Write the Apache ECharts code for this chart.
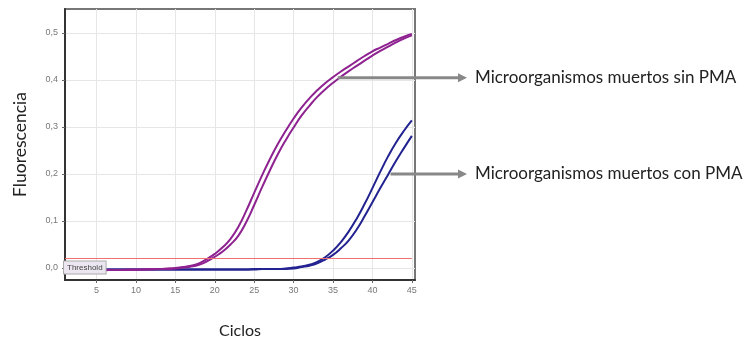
<!DOCTYPE html>
<html>
<head>
<meta charset="utf-8">
<script src="https://cdn.jsdelivr.net/npm/echarts@6/dist/echarts.min.js"></script>
<style>
  html, body { margin: 0; padding: 0; background: #fff; }
  #chart { width: 748px; height: 339px; }
</style>
</head>
<body>
<div id="chart"></div>
<script>
// ciclos 1..45
var cycles = []
for (var c = 1; c <= 45; c++) cycles.push(c)

var sinPmaA = [-0.004, -0.004, -0.004, -0.004, -0.004, -0.004, -0.004, -0.004, -0.003, -0.003,
  -0.003, -0.002, -0.002, -0.001, 0.000, 0.002, 0.005, 0.010, 0.019, 0.030,
  0.044, 0.062, 0.088, 0.122, 0.160, 0.197, 0.232, 0.264, 0.292, 0.318,
  0.341, 0.361, 0.378, 0.393, 0.406, 0.418, 0.429, 0.440, 0.451, 0.461,
  0.469, 0.477, 0.485, 0.492, 0.498]
var sinPmaB = [-0.005, -0.005, -0.005, -0.005, -0.005, -0.005, -0.004, -0.004, -0.004, -0.004,
  -0.003, -0.003, -0.002, -0.002, -0.001, 0.001, 0.003, 0.007, 0.014, 0.024,
  0.035, 0.050, 0.069, 0.098, 0.134, 0.172, 0.208, 0.242, 0.272, 0.299,
  0.324, 0.345, 0.364, 0.380, 0.394, 0.407, 0.419, 0.430, 0.441, 0.452,
  0.462, 0.471, 0.480, 0.488, 0.495]
var conPmaA = [-0.003, -0.003, -0.003, -0.003, -0.003, -0.003, -0.003, -0.003, -0.003, -0.003,
  -0.003, -0.003, -0.003, -0.003, -0.003, -0.003, -0.003, -0.003, -0.003, -0.003,
  -0.003, -0.003, -0.003, -0.003, -0.002, -0.002, -0.002, -0.002, -0.001, 0.001,
  0.003, 0.007, 0.013, 0.023, 0.037, 0.055, 0.078, 0.105, 0.136, 0.170,
  0.205, 0.238, 0.267, 0.292, 0.314]
var conPmaB = [-0.003, -0.003, -0.003, -0.003, -0.003, -0.003, -0.003, -0.003, -0.003, -0.003,
  -0.003, -0.003, -0.003, -0.003, -0.003, -0.003, -0.003, -0.003, -0.003, -0.003,
  -0.003, -0.003, -0.003, -0.003, -0.003, -0.002, -0.002, -0.002, -0.002, -0.001,
  0.002, 0.005, 0.010, 0.018, 0.028, 0.042, 0.059, 0.082, 0.110, 0.140,
  0.170, 0.199, 0.228, 0.255, 0.281]

var threshold = 0.02
var xTicks = [5, 10, 15, 20, 25, 30, 35, 40, 45]
var yTicks = [0, 0.1, 0.2, 0.3, 0.4, 0.5]

var labels = ['Microorganismos muertos sin PMA', 'Microorganismos muertos con PMA']
var arrowFrom = [[35.6, 0.405], [42.3, 0.2]]

function pairs(ys) {
  return cycles.map(function (x, i) { return [x, ys[i]] })
}

var purple = '#8e2290'
var navy = '#222290'

function curve(name, data, color) {
  return {
    name: name,
    type: 'line',
    data: pairs(data),
    smooth: true,
    showSymbol: false,
    symbol: 'none',
    lineStyle: { color: color, width: 2 },
    itemStyle: { color: color },
    animation: false
  }
}

var chart = echarts.init(document.getElementById('chart'))

var seriesList = [
  curve('conA', conPmaA, navy),
  curve('conB', conPmaB, navy),
  curve('sinA', sinPmaA, purple),
  curve('sinB', sinPmaB, purple)
]
seriesList[0].markLine = {
  silent: true,
  symbol: 'none',
  animation: false,
  lineStyle: { color: '#f07070', width: 1, type: 'solid' },
  label: {
    show: true,
    position: 'insideStartBottom',
    formatter: 'Threshold',
    fontSize: 8,
    color: '#444',
    backgroundColor: '#ebe6ef',
    borderColor: '#aaa',
    borderWidth: 1,
    padding: [2, 3],
    distance: [-1, 3]
  },
  data: [[{ coord: [1, threshold] }, { coord: [45, threshold] }]]
}

chart.setOption({
  animation: false,
  grid: {
    left: 65,
    right: 333,
    top: 9,
    bottom: 59,
    show: true,
    borderColor: '#777',
    borderWidth: 2,
    backgroundColor: '#fff',
    outerBoundsMode: 'none'
  },
  xAxis: {
    type: 'value',
    min: 1,
    max: 45.4,
    name: 'Ciclos',
    nameLocation: 'middle',
    nameGap: 43,
    nameTextStyle: { fontFamily: 'Lato', fontSize: 16, color: '#222' },
    axisLine: { show: true, onZero: false, lineStyle: { color: '#333', width: 2 } },
    axisTick: { show: true, length: 3, customValues: xTicks, lineStyle: { color: '#666' } },
    axisLabel: { customValues: xTicks, fontSize: 9, color: '#777', margin: 6 },
    splitLine: { show: true, lineStyle: { color: '#e6e6e6', width: 1 } }
  },
  yAxis: {
    type: 'value',
    min: -0.0255,
    max: 0.551,
    name: 'Fluorescencia',
    nameLocation: 'middle',
    nameRotate: 90,
    nameGap: 36,
    nameTextStyle: { fontFamily: 'Lato', fontSize: 17.5, color: '#222' },
    axisLine: { show: true, onZero: false, lineStyle: { color: '#333', width: 2 } },
    axisTick: { show: true, length: 3, customValues: yTicks, lineStyle: { color: '#666' } },
    axisLabel: {
      customValues: yTicks,
      fontSize: 9,
      color: '#777',
      margin: 7,
      formatter: function (v) { return v.toFixed(1).replace('.', ',') }
    },
    splitLine: { show: true, lineStyle: { color: '#e6e6e6', width: 1 } }
  },
  series: seriesList
})

// flechas y textos
var gfx = []
arrowFrom.forEach(function (p, i) {
  var s = chart.convertToPixel({ gridIndex: 0 }, p)
  var endX = 460
  gfx.push({
    type: 'line',
    shape: { x1: s[0], y1: s[1], x2: endX, y2: s[1] },
    style: { stroke: '#888', lineWidth: 3 },
    z: 100
  })
  gfx.push({
    type: 'polygon',
    shape: { points: [[endX - 2, s[1] - 4.5], [endX + 7, s[1]], [endX - 2, s[1] + 4.5]] },
    style: { fill: '#888' },
    z: 100
  })
  gfx.push({
    type: 'text',
    x: 475,
    y: s[1],
    style: {
      text: labels[i],
      font: '17px Lato',
      fill: '#222',
      verticalAlign: 'middle'
    },
    z: 100
  })
})
chart.setOption({ graphic: gfx })
</script>
</body>
</html>
